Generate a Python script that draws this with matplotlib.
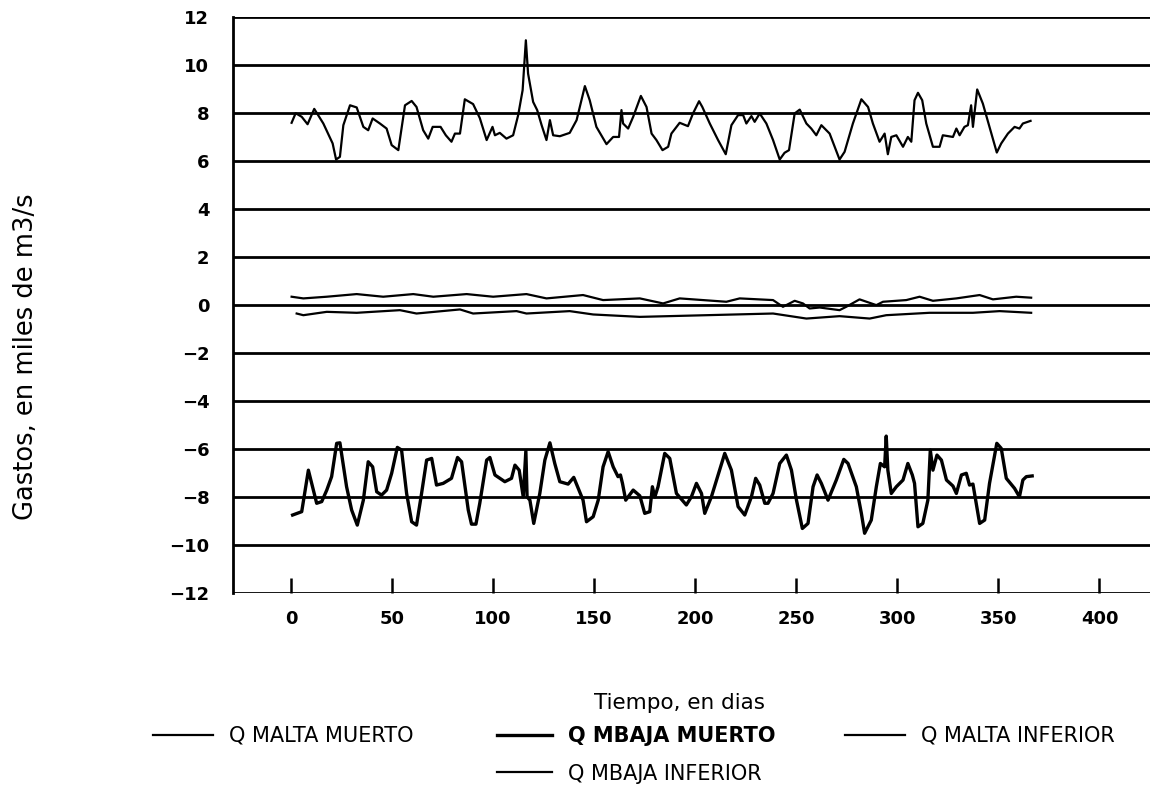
import matplotlib
matplotlib.use('Agg')
import matplotlib.pyplot as plt

# Q MALTA MUERTO (upper series)
dias_malta_muerto = [0.3, 2.3, 5.3, 8.2, 11.5, 16, 20.6, 22.3, 24.2, 25.9, 29.2, 32.5, 35.8, 38.2,
                     40.4, 44, 47.3, 49.8, 53.1, 56.4, 59.7, 62.1, 65.4, 67.9, 70.1, 74, 76.6, 79.4,
                     81.1, 83.6, 86, 90.1, 93.4, 96.8, 99.7, 100.9, 103.3, 106.6, 109.9, 112.4, 114.6,
                     116.2, 117.3, 119.8, 121.8, 124, 126.4, 128.1, 129.7, 133, 137.9, 141.3, 145.4,
                     147.8, 151.1, 156.1, 159.4, 162.3, 163.5, 164.3, 166.8, 169.3, 173.1, 175.9,
                     178.4, 180.8, 183.8, 186.6, 188.2, 192.3, 196.4, 198.9, 201.9, 203.5, 207.2,
                     211.3, 215.1, 217.9, 221.2, 223.7, 225.3, 227.8, 229.4, 231.9, 235.2, 238.5,
                     241.8, 244.2, 246.4, 249.2, 251.7, 255, 257.4, 259.9, 262.4, 266.5, 271.4, 273.9,
                     278, 282.2, 285.5, 287.9, 291.2, 293.7, 295.3, 297, 299.5, 302.8, 305.2, 306.9,
                     308.5, 310.2, 312.3, 314.3, 317.6, 320.9, 322.5, 327.5, 329.2, 330.8, 333.2,
                     334.9, 336.5, 337.4, 339.5, 342.3, 345.6, 349.2, 351.4, 354.7, 358, 360.4, 362.1,
                     365.9]
q_malta_muerto = [7.6, 8.0, 7.85, 7.54, 8.18, 7.57, 6.74, 6.07, 6.18, 7.5, 8.33, 8.24, 7.43, 7.29,
                  7.78, 7.57, 7.36, 6.67, 6.46, 8.33, 8.51, 8.26, 7.29, 6.94, 7.43, 7.43, 7.08, 6.81,
                  7.15, 7.15, 8.58, 8.38, 7.8, 6.88, 7.43, 7.08, 7.18, 6.94, 7.08, 7.92, 8.96, 11.04,
                  9.65, 8.47, 8.13, 7.5, 6.88, 7.71, 7.08, 7.04, 7.18, 7.71, 9.13, 8.54, 7.43, 6.71,
                  7.01, 7.01, 8.13, 7.57, 7.36, 7.85, 8.72, 8.26, 7.15, 6.88, 6.46, 6.6, 7.15, 7.6,
                  7.46, 7.99, 8.5, 8.26, 7.57, 6.88, 6.29, 7.5, 7.92, 7.92, 7.57, 7.88, 7.64, 7.99,
                  7.57, 6.88, 6.07, 6.35, 6.46, 7.99, 8.15, 7.57, 7.36, 7.08, 7.5, 7.15, 6.07, 6.39,
                  7.57, 8.58, 8.26, 7.57, 6.81, 7.15, 6.29, 7.01, 7.08, 6.6, 7.01, 6.81, 8.54, 8.85,
                  8.54, 7.57, 6.6, 6.6, 7.08, 7.01, 7.36, 7.08, 7.43, 7.5, 8.33, 7.43, 8.99, 8.4,
                  7.43, 6.36, 6.74, 7.15, 7.43, 7.36, 7.57, 7.68]

# Q MBAJA MUERTO (lower series)
dias_mbaja_muerto = [0.8, 5.3, 8.6, 12.7, 15.2, 17.7, 20.1, 22.6, 24.2, 27.5, 30, 32.8, 35.8, 38.2,
                     40.4, 42.4, 44.8, 47.3, 49.8, 52.6, 54.7, 57.2, 59.7, 62.1, 64.6, 67.1, 69.6, 72,
                     75.3, 79.4, 82.4, 84.4, 87.7, 89.3, 91.5, 93.4, 96.8, 98.4, 100.9, 105.8, 109.1,
                     110.8, 112.9, 114.9, 116.2, 116.8, 118.2, 120.1, 123.1, 125.6, 128.1, 130.5, 133,
                     137.1, 139.9, 142.1, 144.5, 146.2, 149.5, 152, 154.4, 156.9, 159.4, 161.8, 163,
                     164, 165.6, 169.3, 172.6, 175, 177.5, 178.8, 180, 181.6, 184.9, 187.4, 190.7,
                     195.6, 198.1, 200.6, 203.1, 204.7, 208, 214.6, 217.9, 221.2, 224.5, 227.8, 229.9,
                     231.9, 234.4, 236, 238.5, 241.8, 245.1, 247.6, 250.1, 253, 255.8, 258.3, 260.3,
                     262.4, 265.7, 269.8, 273.5, 275.6, 279.7, 282.2, 283.8, 287.1, 289.6, 291.6,
                     293.7, 294.5, 295.3, 297, 299.5, 302.8, 305.2, 307.4, 308.5, 310.2, 312.6, 315.1,
                     316.3, 317.6, 319.6, 321.8, 324.3, 327.5, 329.2, 331.7, 334.1, 335.7, 337.4, 339,
                     340.7, 343.2, 345.6, 349.2, 351.4, 353.9, 358, 360.4, 362.1, 363.8, 366.7]
q_mbaja_muerto = [-8.75, -8.61, -6.88, -8.26, -8.19, -7.71, -7.15, -5.76, -5.74, -7.57, -8.54,
                  -9.17, -8.13, -6.53, -6.74, -7.78, -7.92, -7.71, -7.01, -5.93, -6.04, -7.85,
                  -9.03, -9.17, -7.85, -6.46, -6.39, -7.5, -7.43, -7.22, -6.35, -6.53, -8.54, -9.13,
                  -9.13, -8.26, -6.46, -6.35, -7.08, -7.36, -7.22, -6.67, -6.88, -7.99, -6.07, -7.99,
                  -8.13, -9.1, -7.85, -6.46, -5.74, -6.6, -7.36, -7.46, -7.18, -7.64, -8.13, -9.03,
                  -8.82, -8.13, -6.74, -6.11, -6.74, -7.15, -7.08, -7.43, -8.13, -7.71, -7.95,
                  -8.68, -8.61, -7.57, -8.0, -7.57, -6.18, -6.39, -7.85, -8.33, -7.99, -7.43, -7.85,
                  -8.68, -7.99, -6.18, -6.88, -8.4, -8.75, -7.99, -7.22, -7.5, -8.26, -8.26, -7.85,
                  -6.6, -6.25, -6.88, -8.13, -9.31, -9.1, -7.57, -7.08, -7.43, -8.13, -7.29, -6.43,
                  -6.6, -7.57, -8.68, -9.51, -8.96, -7.57, -6.6, -6.74, -5.46, -6.88, -7.85, -7.57,
                  -7.29, -6.6, -7.08, -7.43, -9.24, -9.1, -8.13, -6.04, -6.88, -6.25, -6.46, -7.29,
                  -7.54, -7.85, -7.08, -7.01, -7.5, -7.46, -8.26, -9.1, -8.96, -7.43, -5.76, -5.97,
                  -7.22, -7.64, -7.99, -7.29, -7.15, -7.12]

# Q MALTA INFERIOR (around +0.3)
dias_malta_inferior = [0.3, 6.1, 17.7, 32.5, 45.6, 60.5, 70.4, 86.9, 100, 116.5, 126.4, 144.5, 154.4,
                       172.6, 184.1, 192.3, 215.4, 222, 238.5, 243.4, 249.2, 253.3, 256.6, 261.6,
                       271.4, 274.7, 281.3, 289.6, 292.9, 304.4, 311, 317.6, 329.2, 340.7, 347.3,
                       358.8, 366.2]
q_malta_inferior = [0.35, 0.28, 0.35, 0.46, 0.35, 0.46, 0.35, 0.46, 0.35, 0.46, 0.28, 0.42, 0.21,
                    0.28, 0.07, 0.28, 0.14, 0.28, 0.21, -0.07, 0.18, 0.07, -0.14, -0.1, -0.21, -0.07,
                    0.24, 0.0, 0.14, 0.21, 0.35, 0.18, 0.28, 0.42, 0.24, 0.35, 0.31]

# Q MBAJA INFERIOR (around -0.35)
dias_mbaja_inferior = [2.8, 6.1, 17.7, 32.5, 53.9, 62.1, 83.6, 90.1, 111.6, 116.5, 137.9, 149.5,
                       172.6, 205.5, 238.5, 255, 271.4, 286.3, 294.5, 315.9, 337.4, 350.6, 366.2]
q_mbaja_inferior = [-0.35, -0.42, -0.28, -0.32, -0.21, -0.35, -0.18, -0.35, -0.25, -0.35, -0.25,
                    -0.39, -0.49, -0.42, -0.35, -0.56, -0.46, -0.56, -0.42, -0.32, -0.32, -0.25,
                    -0.32]

yticks = list(range(-12, 13, 2))
xticks = list(range(0, 401, 50))

fig = plt.figure(figsize=(11.5, 7.87), dpi=100)
ax = fig.add_axes([0.2026, 0.2465, 0.7974, 0.7316])

l1, = ax.plot(dias_malta_muerto, q_malta_muerto, color='black', lw=1.6)
l2, = ax.plot(dias_mbaja_muerto, q_mbaja_muerto, color='black', lw=2.4)
l3, = ax.plot(dias_malta_inferior, q_malta_inferior, color='black', lw=1.6)
l4, = ax.plot(dias_mbaja_inferior, q_mbaja_inferior, color='black', lw=1.6)

ax.set_xlim(-28.7, 425)
ax.set_ylim(-12, 12)
ax.set_yticks(yticks)
ax.set_xticks(xticks)
for y in yticks:
  ax.axhline(y, color='black', lw=2, zorder=1)

for s in ['top', 'right', 'bottom']:
  ax.spines[s].set_visible(False)
ax.spines['left'].set_linewidth(2)

ax.tick_params(axis='y', length=0, pad=17, labelsize=13)
ax.tick_params(axis='x', direction='in', length=11, width=1.8, pad=12, labelsize=13)
for lab in ax.get_yticklabels() + ax.get_xticklabels():
  lab.set_fontweight('bold')

fig.text(26/1150, 1-357/787, 'Gastos, en miles de m3/s', rotation=90, ha='center', va='center',
         fontsize=18.5)
fig.text(680/1150, 1-703/787, 'Tiempo, en dias', ha='center', va='center', fontsize=15.5)

leg_kw = dict(frameon=False, handletextpad=0.75, labelspacing=0.85, loc='upper left',
              prop={'size': 15}, borderaxespad=0, borderpad=0)
top = 1 - 726/787
leg1 = fig.legend([l1], ['Q MALTA MUERTO'], handlelength=2.9,
                  bbox_to_anchor=(153/1150, top), **leg_kw)
leg2 = fig.legend([l2, l4], ['Q MBAJA MUERTO', 'Q MBAJA INFERIOR'], handlelength=2.65,
                  bbox_to_anchor=(497/1150, top), **leg_kw)
leg3 = fig.legend([l3], ['Q MALTA INFERIOR'], handlelength=2.9,
                  bbox_to_anchor=(845/1150, top), **leg_kw)
leg2.get_texts()[0].set_fontweight('bold')

fig.savefig('out.png', dpi=100)
